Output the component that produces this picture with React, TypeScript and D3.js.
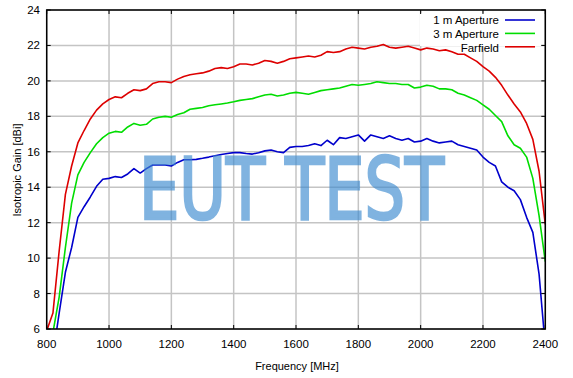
import React from "react";
import * as d3 from "d3";

const freqs = [800,820,840,860,880,900,920,940,960,980,1000,1020,1040,1060,1080,1100,1120,1140,1160,1180,1200,1220,1240,1260,1280,1300,1320,1340,1360,1380,1400,1420,1440,1460,1480,1500,1520,1540,1560,1580,1600,1620,1640,1660,1680,1700,1720,1740,1760,1780,1800,1820,1840,1860,1880,1900,1920,1940,1960,1980,2000,2020,2040,2060,2080,2100,2120,2140,2160,2180,2200,2220,2240,2260,2280,2300,2320,2340,2360,2380,2400];

const farfield = [5.9,6.9,10.4,13.6,15.2,16.5,17.2,17.85,18.35,18.7,18.95,19.1,19.05,19.3,19.5,19.45,19.55,19.85,19.95,19.95,19.9,20.1,20.25,20.35,20.4,20.45,20.55,20.7,20.75,20.7,20.8,20.95,20.95,20.9,21.0,21.15,21.1,21.0,21.1,21.25,21.3,21.35,21.4,21.35,21.45,21.65,21.6,21.65,21.8,21.9,21.85,21.8,21.9,21.95,22.05,21.9,21.85,21.9,21.95,21.85,21.75,21.85,21.8,21.7,21.75,21.65,21.5,21.5,21.3,21.1,20.8,20.55,20.2,19.75,19.2,18.7,18.25,17.6,16.7,14.9,11.9];

const aperture3m = [4.5,5.8,7.8,10.6,13.1,14.7,15.4,15.95,16.45,16.8,17.05,17.15,17.1,17.4,17.6,17.5,17.55,17.85,17.95,18.0,17.95,18.1,18.2,18.4,18.45,18.5,18.6,18.65,18.7,18.75,18.82,18.9,18.95,19.0,19.1,19.2,19.25,19.15,19.2,19.3,19.35,19.3,19.25,19.35,19.45,19.5,19.55,19.6,19.7,19.8,19.75,19.8,19.85,19.95,19.9,19.85,19.85,19.8,19.8,19.6,19.65,19.75,19.7,19.55,19.55,19.5,19.3,19.2,19.05,18.9,18.65,18.4,18.05,17.7,16.9,16.4,16.2,15.7,14.5,12.4,9.8];

const aperture1m = [3.0,4.5,6.9,9.2,10.6,12.3,12.9,13.45,14.05,14.45,14.5,14.6,14.55,14.75,15.05,14.8,15.05,15.25,15.25,15.25,15.2,15.4,15.55,15.55,15.57,15.63,15.7,15.78,15.85,15.9,15.95,15.95,15.9,15.87,15.95,16.05,16.1,16.0,15.95,16.25,16.3,16.3,16.35,16.45,16.35,16.65,16.4,16.8,16.75,16.85,16.95,16.6,16.95,16.85,16.75,16.9,16.75,16.65,16.75,16.55,16.6,16.75,16.6,16.5,16.55,16.6,16.4,16.3,16.2,16.1,15.7,15.4,15.2,14.3,14.0,13.8,13.3,12.3,11.45,9.1,5.0];

const xTicks = [800,1000,1200,1400,1600,1800,2000,2200,2400];
const yTicks = [6,8,10,12,14,16,18,20,22,24];

const seriesNames = ["1 m Aperture", "3 m Aperture", "Farfield"];
const seriesColors = ["#0000cc", "#00dd00", "#dd0000"];

export default function App() {
  const W = 573, H = 378;
  const left = 46.7, right = 545.3, top = 10, bottom = 329;
  const x = d3.scaleLinear().domain([800, 2400]).range([left, right]);
  const y = d3.scaleLinear().domain([6, 24]).range([bottom, top]);
  const font = "Liberation Sans, Arial, sans-serif";
  const seriesData = [aperture1m, aperture3m, farfield];
  const line = (vals: number[]) =>
    d3.line<number>().x((_, i) => x(freqs[i])).y((v) => y(v))(vals) || "";
  const tl = 4;
  return (
    <svg width={W} height={H} style={{ position: "absolute", left: 0, top: 0 }}>
      <rect x={0} y={0} width={W} height={H} fill="#fff" />
      <defs>
        <clipPath id="plotclip">
          <rect x={left} y={top} width={right - left} height={bottom - top} />
        </clipPath>
      </defs>
      {xTicks.map((t) => (
        <line key={"gx" + t} x1={x(t)} x2={x(t)} y1={top} y2={bottom} stroke="#c4c4c4" strokeWidth={1.5} />
      ))}
      {yTicks.map((t) => (
        <line key={"gy" + t} x1={left} x2={right} y1={y(t)} y2={y(t)} stroke="#c4c4c4" strokeWidth={1.5} />
      ))}
      {/* legend background */}
      <rect x={420} y={13} width={121} height={33} fill="#fff" />
      <g clipPath="url(#plotclip)">
        {seriesData.map((vals, i) => (
          <path key={"s" + i} d={line(vals)} fill="none" stroke={seriesColors[i]} strokeWidth={1.6} strokeLinejoin="round" />
        ))}
      </g>
      {/* ticks */}
      {xTicks.map((t) => (
        <g key={"tx" + t}>
          <line x1={x(t)} x2={x(t)} y1={bottom} y2={bottom - tl} stroke="#000" strokeWidth={1} />
          <line x1={x(t)} x2={x(t)} y1={top} y2={top + tl} stroke="#000" strokeWidth={1} />
          <text x={x(t)} y={348} textAnchor="middle" fontFamily={font} fontSize={11.5} fill="#000">{t}</text>
        </g>
      ))}
      {yTicks.map((t) => (
        <g key={"ty" + t}>
          <line x1={left} x2={left + tl} y1={y(t)} y2={y(t)} stroke="#000" strokeWidth={1} />
          <line x1={right} x2={right - tl} y1={y(t)} y2={y(t)} stroke="#000" strokeWidth={1} />
          <text x={40} y={y(t) + 4} textAnchor="end" fontFamily={font} fontSize={11.5} fill="#000">{t}</text>
        </g>
      ))}
      <rect x={left} y={top} width={right - left} height={bottom - top} fill="none" stroke="#000" strokeWidth={1.5} />
      {/* legend */}
      {seriesNames.map((n, i) => (
        <g key={"lg" + i}>
          <text x={499} y={24 + i * 14} textAnchor="end" fontFamily={font} fontSize={11.5} fill="#000">{n}</text>
          <line x1={505} x2={535} y1={20 + i * 13.4} y2={20 + i * 13.4} stroke={seriesColors[i]} strokeWidth={1.6} />
        </g>
      ))}
      {/* axis titles */}
      <text x={297} y={370} textAnchor="middle" fontFamily={font} fontSize={11} fill="#000">Frequency [MHz]</text>
      <text transform="translate(21,170) rotate(-90)" textAnchor="middle" fontFamily={font} fontSize={11} fill="#000">Isotropic Gain [dBi]</text>
      {/* watermark */}
      <g opacity={0.65}>
        <text x={139} y={219} fontFamily="DejaVu Sans Condensed, DejaVu Sans, sans-serif" fontWeight="normal" fontSize={85}
          textLength={305} lengthAdjust="spacingAndGlyphs" fill="#3d8bd0" stroke="#3d8bd0" strokeWidth={2.6} strokeLinejoin="miter">EUT TEST</text>
      </g>
    </svg>
  );
}
